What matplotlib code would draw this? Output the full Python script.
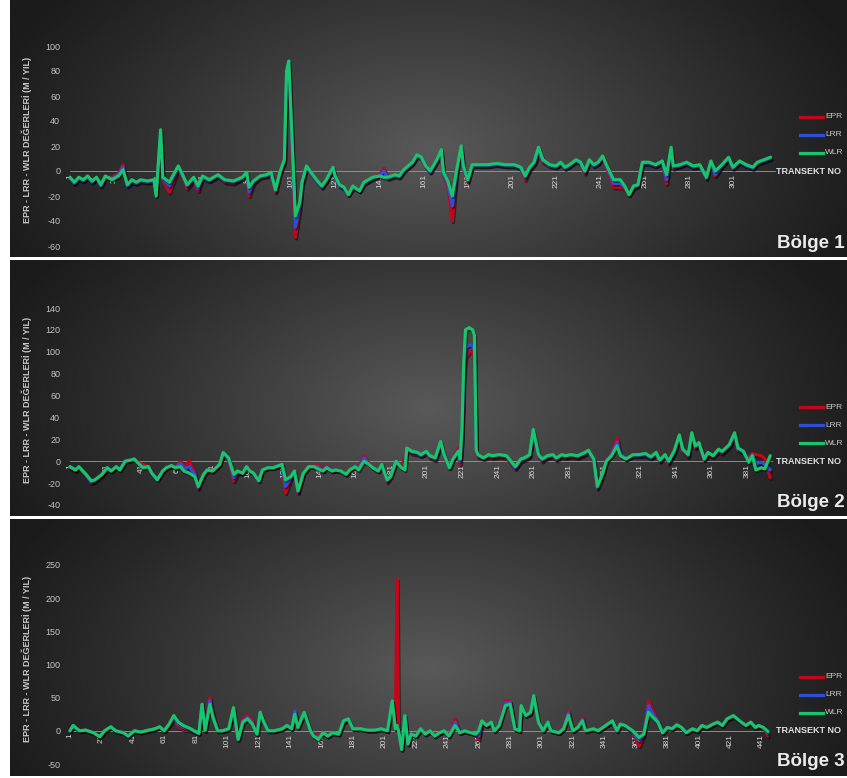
import numpy as np
import matplotlib
matplotlib.use('Agg')
import matplotlib.pyplot as plt
import matplotlib.patheffects as pe
from matplotlib.lines import Line2D

plt.rcParams['font.family'] = ['Liberation Sans', 'DejaVu Sans']
plt.rcParams['axes.unicode_minus'] = False

W, H = 847, 778

##########
# DATA   #
##########

# Bolge 1
T1 = [1, 3, 5, 7, 9, 11, 13, 15, 17, 20,
      23, 25, 27, 29, 31, 33, 36, 39, 40, 42,
      43, 46, 50, 52, 54, 57, 59, 61, 64, 68,
      71, 75, 79, 81, 82, 84, 87, 90, 92, 94,
      96, 98, 99, 100, 103, 105, 106, 108, 110, 113,
      115, 117, 120, 121, 123, 125, 127, 129, 132, 134,
      138, 141, 143, 145, 148, 150, 152, 154, 156, 158,
      160, 162, 164, 167, 169, 170, 172, 174, 176, 178,
      179, 181, 183, 186, 190, 194, 198, 202, 205, 207,
      209, 211, 213, 215, 218, 221, 223, 225, 227, 230,
      232, 234, 236, 238, 240, 242, 244, 247, 250, 252,
      254, 256, 258, 260, 263, 266, 269, 271, 273, 274,
      277, 280, 283, 286, 289, 291, 293, 296, 299, 301,
      304, 307, 310, 312, 315, 318]
WLR1 = [-5, -9, -5, -7, -4, -8, -5, -11, -4, -7,
        -4, 1, -11, -7, -9, -7, -8, -7, -20, 33,
        -5, -9, 4, -3, -11, -5, -12, -4, -7, -3,
        -7, -8, -5, -1, -13, -8, -4, -3, -1, -15,
        -1, 9, 80, 88, -36, -25, -9, 4, -1, -8,
        -12, -7, 3, -4, -11, -13, -19, -12, -16, -9,
        -5, -4, -5, -5, -3, -4, 1, 4, 7, 13,
        11, 4, 0, 9, 17, -1, -8, -20, 1, 20,
        4, -7, 5, 5, 5, 6, 5, 5, 3, -4,
        3, 7, 19, 9, 5, 4, 7, 3, 5, 9,
        7, 0, 9, 5, 7, 12, 4, -7, -7, -12,
        -19, -12, -11, 7, 7, 5, 8, -3, 19, 4,
        5, 7, 4, 5, -5, 8, 0, 5, 11, 3,
        8, 5, 3, 7, 9, 11]
LRR1 = [-6, -10, -6, -8, -5, -9, -6, -12, -5, -6,
        -3, 3, -12, -8, -10, -8, -9, -8, -18, 30,
        -6, -12, 3, -4, -12, -6, -14, -5, -8, -4,
        -8, -9, -6, -2, -17, -9, -5, -4, -2, -16,
        -2, 8, 76, 85, -45, -28, -10, 3, -2, -9,
        -13, -8, 2, -5, -12, -14, -19, -13, -16, -10,
        -6, -4, 0, -6, -4, -5, 0, 3, 6, 12,
        10, 3, -1, 8, 16, -3, -10, -28, 0, 18,
        3, -8, 4, 4, 4, 5, 4, 4, 2, -5,
        2, 6, 15, 8, 4, 3, 6, 2, 4, 8,
        6, -1, 8, 4, 6, 11, 3, -10, -10, -13,
        -19, -13, -12, 6, 6, 4, 7, -7, 17, 3,
        4, 6, 3, 4, -6, 7, -3, 4, 10, 2,
        7, 4, 2, 6, 8, 10]
EPR1 = [-6, -10, -6, -8, -5, -9, -6, -12, -5, -5,
        -2, 5, -12, -9, -10, -8, -9, -8, -16, 28,
        -7, -17, 2, -5, -14, -7, -16, -5, -8, -4,
        -9, -10, -6, -2, -20, -10, -5, -4, -2, -17,
        -2, 7, 72, 83, -53, -30, -11, 2, -2, -9,
        -13, -8, 2, -5, -12, -14, -19, -13, -16, -10,
        -6, -3, 2, -6, -4, -5, 0, 3, 6, 12,
        10, 3, -1, 8, 15, -4, -12, -40, -1, 17,
        2, -9, 4, 4, 4, 5, 4, 4, 2, -7,
        1, 5, 13, 7, 4, 3, 6, 2, 4, 8,
        6, -2, 8, 4, 6, 10, 2, -13, -13, -14,
        -19, -14, -12, 6, 6, 4, 7, -10, 16, 2,
        4, 6, 3, 4, -6, 7, -4, 4, 10, 2,
        7, 4, 2, 6, 8, 10]

# Bolge 2
T2 = [1, 4, 6, 10, 13, 15, 19, 22, 24, 27,
      29, 32, 35, 37, 40, 42, 45, 47, 50, 53,
      55, 58, 60, 63, 65, 68, 71, 73, 76, 78,
      81, 85, 87, 90, 93, 95, 98, 100, 102, 104,
      107, 109, 112, 115, 120, 122, 125, 127, 129, 132,
      135, 138, 140, 143, 145, 148, 150, 153, 156, 158,
      161, 163, 166, 168, 171, 174, 176, 179, 181, 184,
      187, 189, 190, 193, 196, 198, 201, 203, 206, 209,
      211, 214, 216, 219, 220, 221, 222, 223, 225, 227,
      228, 229, 230, 233, 236, 238, 242, 246, 251, 254,
      256, 259, 261, 264, 266, 269, 272, 274, 277, 279,
      282, 286, 290, 292, 295, 297, 300, 302, 305, 308,
      310, 313, 317, 320, 324, 327, 330, 332, 335, 337,
      340, 343, 345, 348, 350, 352, 354, 357, 359, 362,
      365, 367, 371, 374, 376, 379, 382, 384, 386, 389,
      391, 394]
WLR2 = [-5, -8, -5, -12, -18, -17, -12, -6, -9, -5,
        -8, 0, 1, 2, -3, -6, -5, -11, -17, -9,
        -6, -4, -6, -5, -9, -11, -14, -23, -12, -8,
        -9, -3, 8, 3, -12, -9, -11, -5, -9, -11,
        -18, -8, -6, -6, -3, -17, -14, -9, -27, -11,
        -5, -5, -7, -9, -6, -9, -8, -9, -12, -8,
        -5, -8, 0, -2, -6, -9, -3, -17, -14, 0,
        -6, -8, 12, 9, 8, 6, 9, 5, 3, 18,
        6, -6, 2, 9, 2, 30, 90, 120, 122, 120,
        115, 10, 6, 3, 6, 5, 6, 5, -5, 2,
        3, 6, 29, 6, 2, 5, 6, 3, 6, 5,
        6, 5, 8, 10, 2, -23, -11, 0, 5, 14,
        5, 2, 6, 6, 7, 4, 8, 1, 6, 0,
        9, 24, 11, 6, 26, 14, 17, 2, 8, 5,
        11, 9, 15, 26, 12, 9, -1, 5, -8, -6,
        -7, 5]
LRR2 = [-5, -8, -6, -13, -19, -18, -12, -6, -9, -5,
        -8, 0, 1, 2, -3, -5, -5, -11, -17, -9,
        -6, -4, -6, -2, -7, -5, -12, -24, -12, -8,
        -9, -3, 7, 2, -15, -10, -11, -5, -9, -11,
        -18, -8, -6, -6, -3, -23, -15, -9, -28, -11,
        -5, -5, -5, -9, -5, -9, -8, -9, -12, -8,
        -5, -7, 3, -1, -6, -9, -3, -18, -14, 0,
        -6, -6, 11, 8, 7, 5, 8, 4, 2, 16,
        5, -6, 2, 10, 0, 22, 80, 104, 106, 106,
        100, 9, 5, 3, 5, 4, 5, 4, -6, 1,
        2, 5, 26, 5, 1, 4, 5, 2, 5, 4,
        5, 4, 7, 9, 1, -24, -12, 0, 6, 17,
        6, 2, 5, 5, 6, 3, 7, 0, 5, -1,
        8, 22, 10, 5, 24, 13, 16, 2, 7, 5,
        10, 8, 14, 24, 11, 8, 1, 6, -2, -1,
        -3, -8]
EPR2 = [-6, -9, -6, -13, -20, -18, -13, -7, -9, -6,
        -8, 0, 1, 2, -2, -3, -5, -11, -17, -9,
        -6, -4, -6, 0, -5, 0, -10, -25, -13, -9,
        -9, -3, 6, 1, -18, -11, -11, -5, -9, -11,
        -18, -8, -6, -6, -3, -29, -16, -9, -29, -11,
        -5, -5, -3, -9, -4, -9, -8, -9, -12, -8,
        -5, -6, 5, 0, -6, -9, -3, -19, -14, 0,
        -6, 4, 10, 7, 6, 5, 7, 3, 1, 15,
        4, -6, 2, 12, -3, 18, 75, 95, 100, 100,
        95, 8, 4, 2, 4, 3, 4, 3, -7, 0,
        1, 4, 24, 4, 0, 3, 4, 1, 4, 3,
        4, 3, 6, 8, 0, -25, -13, 0, 7, 21,
        7, 2, 5, 5, 5, 3, 6, 0, 4, -2,
        7, 20, 9, 4, 22, 12, 15, 1, 6, 4,
        9, 7, 13, 22, 10, 8, 3, 7, 6, 5,
        2, -15]

# Bolge 3
T3 = [1, 3, 7, 11, 16, 20, 23, 27, 30, 35,
      38, 42, 46, 51, 55, 58, 61, 64, 67, 70,
      73, 77, 80, 83, 85, 87, 90, 92, 95, 98,
      102, 105, 108, 111, 114, 117, 120, 122, 124, 127,
      131, 136, 139, 142, 144, 146, 150, 154, 156, 159,
      162, 165, 168, 172, 175, 178, 181, 186, 190, 195,
      199, 203, 206, 208, 209, 210, 212, 214, 216, 218,
      221, 224, 227, 230, 233, 236, 239, 242, 246, 249,
      252, 256, 259, 261, 263, 266, 269, 271, 274, 278,
      281, 284, 287, 288, 291, 294, 296, 299, 302, 305,
      307, 312, 315, 318, 321, 324, 327, 329, 334, 337,
      340, 343, 346, 349, 351, 354, 359, 363, 366, 369,
      372, 375, 378, 381, 384, 387, 390, 393, 397, 400,
      403, 406, 410, 413, 416, 419, 423, 428, 431, 434,
      437, 439, 442, 445]
WLR3 = [0, 8, 0, 1, -3, -9, 0, 6, 0, -3,
        -8, 0, -2, 1, 3, 6, 0, 10, 23, 13,
        8, 4, 0, -4, 40, 1, 40, 20, 0, 0,
        3, 35, -13, 13, 18, 10, -5, 28, 15, 0,
        0, 3, 8, 3, 25, 5, 28, 0, -8, -13,
        -3, -8, -3, -5, 15, 18, 3, 3, 1, 1,
        3, 0, 45, 3, 8, 0, -28, 23, -20, -5,
        -8, 3, -5, 0, -8, -3, 0, -8, 8, -3,
        0, -3, -5, 0, 15, 8, 13, 0, 8, 38,
        40, 3, 0, 38, 23, 28, 53, 13, 0, 13,
        0, -3, 3, 23, 0, 5, 15, 0, 3, 0,
        5, 10, 15, 0, 10, 8, 0, -10, -5, 28,
        20, 13, -3, 5, 3, 9, 5, -3, 3, 0,
        8, 5, 10, 13, 8, 18, 23, 13, 8, 13,
        5, 8, 5, -1]
LRR3 = [0, 8, 0, 1, -3, -9, 0, 6, 0, -3,
        -8, 0, -2, 1, 3, 6, 0, 9, 20, 10,
        5, 3, -1, -4, 40, 0, 45, 22, 0, 0,
        3, 33, -13, 15, 20, 12, -5, 27, 15, 0,
        0, 3, 8, 3, 30, 5, 27, 0, -8, -10,
        -3, -8, -3, -5, 14, 17, 3, 3, 1, 1,
        3, 0, 43, 3, 8, 0, -28, 22, -20, -5,
        -8, 3, -5, 0, -8, -3, 0, -8, 13, -3,
        0, -3, -5, -8, 13, 8, 12, 0, 8, 42,
        43, 3, 0, 36, 23, 27, 50, 13, 0, 13,
        0, -3, 3, 27, 0, 5, 17, 0, 3, 0,
        5, 10, 14, 0, 10, 8, -2, -15, -6, 38,
        25, 14, -3, 5, 3, 9, 5, -3, 3, 0,
        8, 5, 10, 13, 8, 18, 22, 13, 8, 13,
        5, 8, 5, -4]
EPR3 = [0, 8, 0, 1, -3, -9, 0, 6, 0, -3,
        -8, 0, -2, 1, 3, 6, 0, 8, 18, 6,
        2, 2, -2, -4, 38, 0, 50, 25, 0, 0,
        3, 30, -13, 18, 23, 15, -5, 26, 15, 0,
        0, 3, 8, 3, 28, 5, 26, 0, -8, -7,
        -3, -8, -3, -5, 13, 16, 3, 3, 1, 1,
        3, 0, 40, 3, 228, 0, -28, 20, -20, -5,
        -8, 3, -5, 0, -8, -3, 0, -8, 18, -3,
        0, -3, -5, -13, 10, 8, 11, 0, 8, 45,
        45, 3, 0, 34, 23, 26, 48, 13, 0, 13,
        0, -3, 3, 30, 0, 5, 20, 0, 3, 0,
        5, 10, 13, 0, 10, 8, -4, -23, -7, 45,
        30, 15, -3, 5, 3, 9, 5, -3, 3, 0,
        8, 5, 10, 13, 8, 18, 21, 13, 8, 13,
        5, 8, 5, -8]

YLABEL = 'EPR - LRR - WLR DEĞERLERİ (M / YIL)'
SERIES = ['EPR', 'LRR', 'WLR']
COLORS = {'EPR': '#c4061b', 'LRR': '#2d4fd6', 'WLR': '#19c46c'}

###########################
# LAYOUT (pixel coords)   #
###########################

panels = [
    dict(T=T1, EPR=EPR1, LRR=LRR1, WLR=WLR1, name='Bölge 1',
         box=(10, 0, 847, 257), plot=(70, 46, 775, 246),
         xlim=(1, 320), ylim=(-60, 100), yticks=range(-60, 101, 20),
         xticks=range(1, 302, 20), ylab_y=140),
    dict(T=T2, EPR=EPR2, LRR=LRR2, WLR=WLR2, name='Bölge 2',
         box=(10, 260, 847, 516), plot=(70, 308, 772, 505),
         xlim=(1, 395), ylim=(-40, 140), yticks=range(-40, 141, 20),
         xticks=range(1, 382, 20), ylab_y=400),
    dict(T=T3, EPR=EPR3, LRR=LRR3, WLR=WLR3, name='Bölge 3',
         box=(10, 519, 847, 776), plot=(70, 565, 768, 764),
         xlim=(1, 445), ylim=(-50, 250), yticks=range(-50, 251, 50),
         xticks=range(1, 442, 20), ylab_y=659),
]


def px_rect(x0, y0, x1, y1):
    """pixel box with top-left origin -> figure fraction rect"""
    return [x0 / W, 1 - y1 / H, (x1 - x0) / W, (y1 - y0) / H]


def fx(x):
    return x / W


def fy(y):
    return 1 - y / H


def dark_gradient():
    yy, xx = np.mgrid[0:1:200j, 0:1:400j]
    r = np.sqrt(((xx - 0.5) / 0.55) ** 2 + ((yy - 0.58) / 1.05) ** 2)
    v = 1 - np.clip(r, 0, 1)
    g = (27 + 62 * v ** 1.1) / 255
    return np.dstack([g, g, g])


fig = plt.figure(figsize=(W / 100, H / 100), dpi=100, facecolor='white')
grad = dark_gradient()

for p in panels:
    # background panel
    bg = fig.add_axes(px_rect(*p['box']))
    bg.imshow(grad, aspect='auto', extent=(0, 1, 0, 1), interpolation='bilinear')
    bg.set_axis_off()

    ax = fig.add_axes(px_rect(*p['plot']))
    ax.patch.set_alpha(0)
    ax.set_xlim(*p['xlim'])
    ax.set_ylim(*p['ylim'])

    for s in SERIES:
        ax.plot(p['T'], p[s], color=COLORS[s], lw=2.3, clip_on=False,
                solid_joinstyle='round', solid_capstyle='round',
                path_effects=[pe.SimpleLineShadow(offset=(0.8, -1.2), shadow_color='black', alpha=0.45),
                              pe.Normal()])

    for side in ['top', 'right', 'left']:
        ax.spines[side].set_visible(False)
    ax.spines['bottom'].set_position(('data', 0))
    ax.spines['bottom'].set_color('#9a9a9a')
    ax.spines['bottom'].set_linewidth(0.6)
    ax.spines['bottom'].set_zorder(0)

    ax.set_yticks(list(p['yticks']))
    ax.set_xticks(list(p['xticks']))
    ax.tick_params(axis='y', length=0, pad=7, labelsize=6.5, labelcolor='#c4c4c4')
    ax.tick_params(axis='x', length=0, pad=2, labelsize=6, labelcolor='#d6d6d6',
                   labelrotation=90)

    # y-axis title
    fig.text(fx(27), fy(p['ylab_y']), YLABEL, rotation=90, ha='center', va='center',
             fontsize=6.5, fontweight='bold', color='#c8c8c8')

    # legend drawn by hand to the right of the plot
    zero_px = H - ax.transData.transform((0, 0))[1]
    for k, s in enumerate(SERIES):
        yy = zero_px - 54 + 18 * k
        fig.add_artist(Line2D([fx(800), fx(823)], [fy(yy), fy(yy)], color=COLORS[s], lw=2.3))
        fig.text(fx(825), fy(yy), s, ha='left', va='center', fontsize=6, color='#c8c8c8')
    fig.text(fx(776), fy(zero_px), 'TRANSEKT NO', ha='left', va='center',
             fontsize=6.5, fontweight='bold', color='#e0e0e0')

    # region name
    fig.text(fx(845), fy(p['box'][3] - 14), p['name'], ha='right', va='center',
             fontsize=13.5, fontweight='bold', color='#ebebeb')

fig.savefig('out.png', dpi=100, facecolor='white')
